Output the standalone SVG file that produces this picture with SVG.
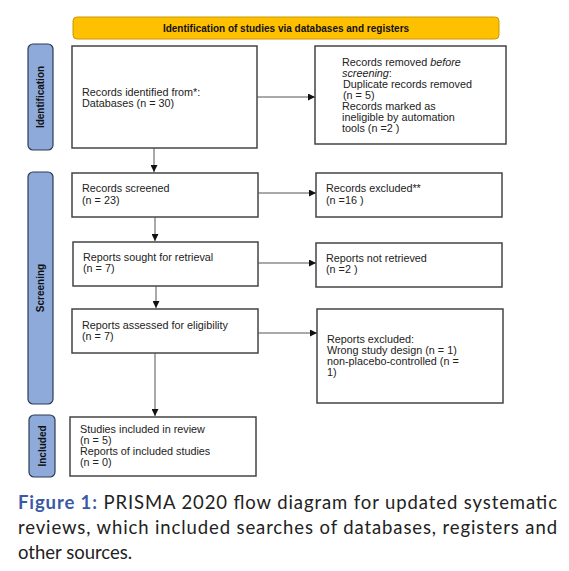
<svg xmlns="http://www.w3.org/2000/svg" width="569" height="571" viewBox="0 0 569 571">
<style>
.box{fill:#fff;stroke:#444;stroke-width:1.5}
.side{fill:#8eaadb;stroke:#2f3b52;stroke-width:1.2}
.t{font-family:"Liberation Sans",Arial,sans-serif;font-size:10.8px;fill:#222}
.st{font-family:"Liberation Sans",Arial,sans-serif;font-size:10px;font-weight:bold;fill:#111}
.c{stroke:#555;stroke-width:1;fill:none}
.cap{font-family:Lato,"Open Sans",sans-serif;font-size:18.5px;fill:#222}
</style>
<defs>
<marker id="ah" viewBox="0 0 10 10" refX="10" refY="5" markerWidth="7" markerHeight="7" orient="auto" markerUnits="userSpaceOnUse">
<path d="M0,0 L10,5 L0,10 z" fill="#111"/>
</marker>
</defs>
<rect width="569" height="571" fill="#fff"/>
<g id="banner">
<rect x="73" y="17" width="426" height="22" rx="4" fill="#ffc000" stroke="#c89a00" stroke-width="1"/>
<text x="286" y="32" text-anchor="middle" class="st" font-size="11px">Identification of studies via databases and registers</text>
</g>
<g id="side-identification">
<rect class="side" x="28" y="44" width="25" height="106" rx="5"/>
<text class="st" transform="translate(44,97) rotate(-90)" text-anchor="middle">Identification</text>
</g>
<g id="side-screening">
<rect class="side" x="28" y="172" width="25" height="232" rx="5"/>
<text class="st" transform="translate(44,288) rotate(-90)" text-anchor="middle">Screening</text>
</g>
<g id="side-included">
<rect class="side" x="29" y="415" width="26" height="62" rx="5"/>
<text class="st" transform="translate(46,446) rotate(-90)" text-anchor="middle">Included</text>
</g>
<g id="records-identified">
<rect class="box" x="72" y="46" width="185" height="102"/>
<text class="t" x="82" y="96">Records identified from*:</text>
<text class="t" x="82" y="107">Databases (n = 30)</text>
</g>
<g id="records-removed">
<rect class="box" x="315" y="46" width="191" height="98"/>
<text class="t" x="342" y="66">Records removed <tspan font-style="italic">before</tspan></text>
<text class="t" x="342" y="77"><tspan font-style="italic">screening</tspan>:</text>
<text class="t" x="343" y="88">Duplicate records removed</text>
<text class="t" x="343" y="99">(n = 5)</text>
<text class="t" x="342" y="110">Records marked as</text>
<text class="t" x="342" y="121">ineligible by automation</text>
<text class="t" x="342" y="132">tools (n =2 )</text>
</g>
<g id="records-screened">
<rect class="box" x="72" y="173" width="186" height="44"/>
<text class="t" x="82" y="192">Records screened</text>
<text class="t" x="82" y="204">(n = 23)</text>
</g>
<g id="records-excluded">
<rect class="box" x="316" y="173" width="186" height="44"/>
<text class="t" x="326" y="192">Records excluded**</text>
<text class="t" x="326" y="204">(n =16 )</text>
</g>
<g id="reports-sought">
<rect class="box" x="73" y="242" width="185" height="44"/>
<text class="t" x="83" y="261">Reports sought for retrieval</text>
<text class="t" x="83" y="272">(n = 7)</text>
</g>
<g id="reports-not-retrieved">
<rect class="box" x="316" y="243" width="186" height="44"/>
<text class="t" x="326" y="262">Reports not retrieved</text>
<text class="t" x="326" y="273">(n =2 )</text>
</g>
<g id="reports-assessed">
<rect class="box" x="72" y="309" width="186" height="44"/>
<text class="t" x="82" y="329">Reports assessed for eligibility</text>
<text class="t" x="82" y="340">(n = 7)</text>
</g>
<g id="reports-excluded">
<rect class="box" x="317" y="309" width="186" height="94"/>
<text class="t" x="327" y="343">Reports excluded:</text>
<text class="t" x="327" y="354">Wrong study design (n = 1)</text>
<text class="t" x="327" y="365">non-placebo-controlled (n =</text>
<text class="t" x="327" y="376">1)</text>
</g>
<g id="studies-included">
<rect class="box" x="70" y="417" width="186" height="59"/>
<text class="t" x="80" y="433">Studies included in review</text>
<text class="t" x="80" y="444">(n = 5)</text>
<text class="t" x="80" y="455">Reports of included studies</text>
<text class="t" x="80" y="466">(n = 0)</text>
</g>
<g id="connectors">
<line class="c" x1="257" y1="97" x2="315" y2="97" marker-end="url(#ah)"/>
<line class="c" x1="154" y1="148" x2="154" y2="172" marker-end="url(#ah)"/>
<line class="c" x1="258" y1="193" x2="316" y2="193" marker-end="url(#ah)"/>
<line class="c" x1="155" y1="217" x2="155" y2="241" marker-end="url(#ah)"/>
<line class="c" x1="258" y1="263" x2="316" y2="263" marker-end="url(#ah)"/>
<line class="c" x1="156" y1="286" x2="156" y2="308" marker-end="url(#ah)"/>
<line class="c" x1="258" y1="333" x2="317" y2="333" marker-end="url(#ah)"/>
<line class="c" x1="155" y1="353" x2="155" y2="416" marker-end="url(#ah)"/>
</g>
<g id="caption">
<text class="cap" x="18" y="509" textLength="539" lengthAdjust="spacing"><tspan font-weight="bold" fill="#3b5aa6">Figure 1:</tspan> PRISMA 2020 flow diagram for updated systematic</text>
<text class="cap" x="18" y="534" textLength="539" lengthAdjust="spacing">reviews, which included searches of databases, registers and</text>
<text class="cap" x="18" y="559">other sources.</text>
</g>
</svg>
